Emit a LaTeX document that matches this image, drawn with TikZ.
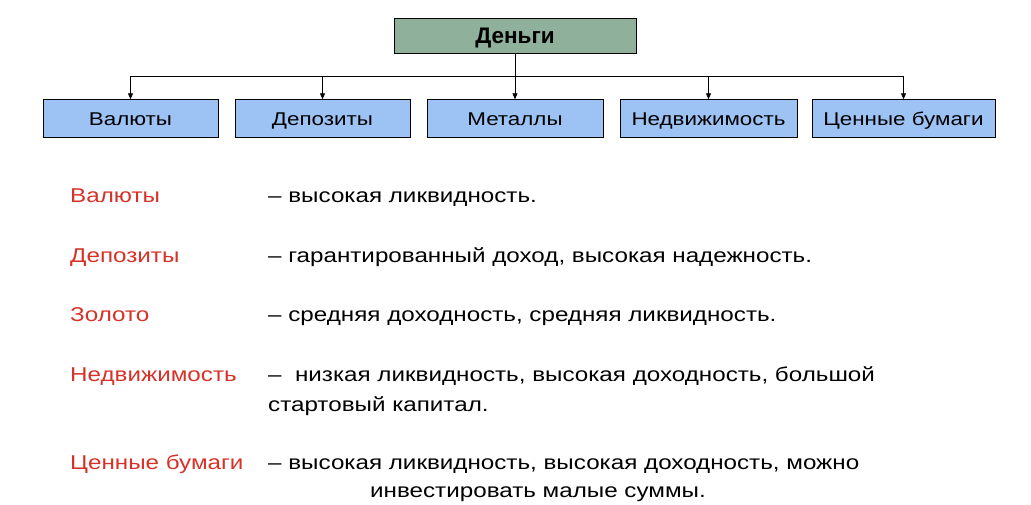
\documentclass[tikz,border=0pt]{standalone}
\usepackage{fontspec}
\setmainfont{Liberation Sans}
\usetikzlibrary{arrows.meta,calc}

\definecolor{moneyfill}{RGB}{143,176,155}
\definecolor{catfill}{RGB}{157,195,245}
\definecolor{labred}{RGB}{214,50,40}

% wide text, as in the reference
\newcommand{\wtext}[1]{\scalebox{1.21}[1]{#1}}

\tikzset{
  cat/.style={draw, fill=catfill, minimum height=38pt, inner sep=0pt,
    text height=13pt, text depth=0pt, font=\fontsize{18.5}{20}\selectfont},
  link/.style={-{Triangle[length=6pt,width=5pt]}, line width=0.8pt},
  lab/.style={anchor=base west, inner sep=0pt, text=labred, font=\fontsize{20}{24}\selectfont},
  desc/.style={anchor=base west, inner sep=0pt, font=\fontsize{20}{24}\selectfont}
}

\begin{document}
\begin{tikzpicture}[x=1pt,y=-1pt]
\useasboundingbox (0,0) rectangle (1031,504);
\node[draw, fill=moneyfill, minimum width=242pt, minimum height=35pt, inner sep=0pt,
  text height=16pt, text depth=0pt, font=\bfseries\fontsize{22.5}{24}\selectfont] (money) at (515,35.5) {Деньги};
\node[cat, minimum width=175pt] (val) at (130.5,118.5) {\wtext{Валюты}};
\node[cat, minimum width=175pt] (dep) at (322.5,118.5) {\wtext{Депозиты}};
\node[cat, minimum width=176pt] (met) at (515,118.5) {\wtext{Металлы}};
\node[cat, minimum width=177pt] (ned) at (708.5,118.5) {\wtext{Недвижимость}};
\node[cat, minimum width=183pt] (cen) at (903.5,118.5) {\wtext{Ценные бумаги}};
\coordinate (bus) at (515,76);
\draw[link] (money.south) -- (met.north);
\foreach \n in {val,dep,ned,cen}
  \draw[link] (bus) -| (\n.north);

\node[lab] (l1) at (70,202) {\wtext{Валюты}};
\node[lab] (l2) at (70,262) {\wtext{Депозиты}};
\node[lab] (l3) at (70,321) {\wtext{Золото}};
\node[lab] (l4) at (70,381) {\wtext{Недвижимость}};
\node[lab] (l5) at (70,469) {\wtext{Ценные бумаги}};
\node[desc] (d1) at (268,202) {\wtext{– высокая ликвидность.}};
\node[desc] (d2) at (268,262) {\wtext{– гарантированный доход, высокая надежность.}};
\node[desc] (d3) at (268,321) {\wtext{– средняя доходность, средняя ликвидность.}};
\node[desc] (d4) at (268,381) {\wtext{–\ \ низкая ликвидность, высокая доходность, большой}};
\node[desc] (d4b) at (268,411) {\wtext{стартовый капитал.}};
\node[desc] (d5) at (268,469) {\wtext{– высокая ликвидность, высокая доходность, можно}};
\node[desc] (d5b) at (370,497) {\wtext{инвестировать малые суммы.}};
\end{tikzpicture}
\end{document}
